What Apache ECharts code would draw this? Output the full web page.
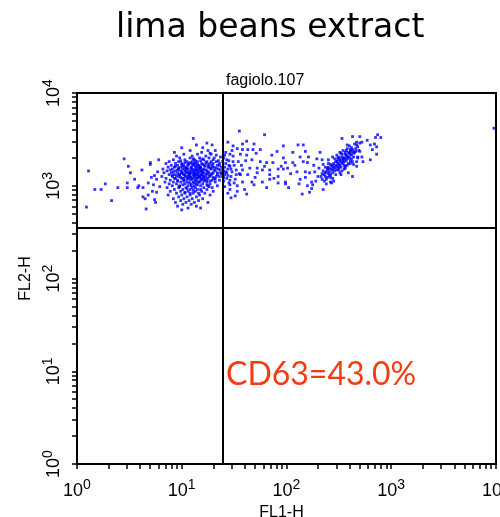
<!DOCTYPE html>
<html><head><meta charset="utf-8">
<script src="https://cdn.jsdelivr.net/npm/echarts@6/dist/echarts.min.js"></script>
<style>html,body{margin:0;padding:0;background:#fff}#c{width:500px;height:517px}</style>
</head><body><div id="c"></div>
<script>
// Values are log10 of FL1-H / FL2-H intensity (decades).
const titleText = 'lima beans extract';
const sampleName = 'fagiolo.107';
const gateLabel = 'CD63=43.0%';
const gateFL1 = 24.5;   // vertical quadrant marker (FL1-H)
const gateFL2 = 355;    // horizontal quadrant marker (FL2-H)
const decades = [0, 1, 2, 3, 4];

const leftTail = [[0.11,3.16],[0.09,2.77],[0.17,2.96],[0.23,2.96],[0.27,3.02],[0.33,2.84],[0.39,2.98],[0.45,3.29],[0.48,3.03],[0.48,2.98],[0.49,3.21],[0.51,3.14],[0.55,3.07],[0.58,2.98],[0.59,3.00],[0.62,3.17],[0.63,2.98],[0.63,2.88],[0.65,2.86],[0.66,2.75],[0.68,3.03],[0.68,2.90],[0.70,3.25],[0.72,2.94],[0.74,2.85],[0.76,3.07],[0.77,3.15],[0.79,2.99],[0.70,3.23],[0.74,3.11],[0.73,3.01],[0.76,2.93],[0.78,3.28],[0.75,2.82],[0.71,3.09]];

const mainCluster = [
[0.98,3.30],[1.08,3.30],[1.17,3.30],[1.26,3.30],
[0.92,3.28],[1.03,3.28],[1.12,3.28],[1.21,3.28],[1.30,3.28],
[0.88,3.26],[0.97,3.26],[1.05,3.26],[1.10,3.26],[1.15,3.26],[1.24,3.26],[1.33,3.26],
[0.85,3.24],[0.94,3.24],[1.00,3.24],[1.07,3.24],[1.13,3.24],[1.19,3.24],[1.27,3.24],[1.36,3.24],
[0.90,3.22],[0.96,3.22],[1.02,3.22],[1.06,3.22],[1.11,3.22],[1.16,3.22],[1.22,3.22],[1.29,3.22],[1.34,3.22],
[0.87,3.20],[0.93,3.20],[0.99,3.20],[1.04,3.20],[1.09,3.20],[1.14,3.20],[1.18,3.20],[1.25,3.20],[1.31,3.20],[1.38,3.20],
[0.82,3.18],[0.91,3.18],[0.97,3.18],[1.01,3.18],[1.06,3.18],[1.10,3.18],[1.13,3.18],[1.17,3.18],[1.21,3.18],[1.28,3.18],[1.35,3.18],
[0.86,3.16],[0.94,3.16],[0.99,3.16],[1.03,3.16],[1.08,3.16],[1.12,3.16],[1.15,3.16],[1.19,3.16],[1.24,3.16],[1.32,3.16],[1.40,3.16],
[0.83,3.14],[0.90,3.14],[0.96,3.14],[1.00,3.14],[1.05,3.14],[1.09,3.14],[1.13,3.14],[1.16,3.14],[1.20,3.14],[1.26,3.14],[1.30,3.14],[1.37,3.14],
[0.88,3.12],[0.93,3.12],[0.98,3.12],[1.02,3.12],[1.07,3.12],[1.11,3.12],[1.14,3.12],[1.18,3.12],[1.23,3.12],[1.28,3.12],[1.34,3.12],
[0.81,3.10],[0.91,3.10],[0.97,3.10],[1.04,3.10],[1.08,3.10],[1.12,3.10],[1.17,3.10],[1.21,3.10],[1.27,3.10],[1.33,3.10],[1.39,3.10],
[0.85,3.08],[0.94,3.08],[1.00,3.08],[1.06,3.08],[1.10,3.08],[1.15,3.08],[1.19,3.08],[1.25,3.08],[1.31,3.08],
[0.89,3.06],[0.96,3.06],[1.02,3.06],[1.08,3.06],[1.13,3.06],[1.18,3.06],[1.22,3.06],[1.29,3.06],[1.36,3.06],
[0.84,3.04],[0.92,3.04],[0.99,3.04],[1.05,3.04],[1.11,3.04],[1.16,3.04],[1.24,3.04],[1.32,3.04],
[0.88,3.02],[0.95,3.02],[1.03,3.02],[1.09,3.02],[1.14,3.02],[1.20,3.02],[1.27,3.02],
[0.91,3.00],[0.98,3.00],[1.06,3.00],[1.12,3.00],[1.18,3.00],[1.25,3.00],[1.34,3.00],
[0.86,2.98],[0.97,2.98],[1.04,2.98],[1.10,2.98],[1.21,2.98],[1.29,2.98],
[0.93,2.96],[1.01,2.96],[1.08,2.96],[1.15,2.96],[1.24,2.96],
[0.89,2.94],[0.99,2.94],[1.06,2.94],[1.13,2.94],[1.19,2.94],[1.30,2.94],
[0.95,2.92],[1.03,2.92],[1.11,2.92],[1.22,2.92],
[0.87,2.90],[1.00,2.90],[1.08,2.90],[1.17,2.90],[1.27,2.90],
[0.97,2.88],[1.05,2.88],[1.14,2.88],
[0.92,2.86],[1.02,2.86],[1.10,2.86],[1.20,2.86],
[0.99,2.84],[1.07,2.84],[1.16,2.84],
[0.94,2.82],[1.04,2.82],[1.12,2.82],[1.25,2.82],
[1.01,2.80],[1.09,2.80],[0.96,2.78],[1.14,2.78],[1.06,2.76],[1.18,2.76],[1.00,2.74],
[0.95,3.32],[1.10,3.32],[1.23,3.32],[1.02,3.34],[1.15,3.34],[1.28,3.34],
[0.93,3.36],[1.19,3.36],[1.08,3.38],[1.25,3.38],[1.32,3.38],
[1.00,3.41],[1.20,3.41],[1.14,3.44],[1.29,3.44],[1.24,3.46],[1.11,3.51]
];

const clusterCore = [
[1.01,3.13],[1.06,3.15],[1.11,3.15],[1.15,3.13],[1.19,3.15],[1.23,3.17],[1.04,3.17],[1.09,3.19],[1.13,3.21],[1.18,3.19],
[1.22,3.21],[1.27,3.19],[1.03,3.11],[1.07,3.09],[1.12,3.11],[1.16,3.09],[1.20,3.11],[1.24,3.13],[0.99,3.09],[1.05,3.07],
[1.10,3.07],[1.14,3.05],[1.19,3.07],[1.23,3.09],[0.95,3.11],[0.92,3.15],[0.97,3.19],[1.01,3.21],[1.06,3.23],[1.10,3.23],
[1.15,3.23],[1.20,3.23],[1.25,3.23],[1.29,3.20],[1.31,3.17],[1.29,3.13],[1.26,3.11],[1.30,3.09],[1.02,3.05],[1.07,3.03],
[1.12,3.03],[1.17,3.04],[1.21,3.05],[0.96,3.05],[0.93,3.08],[1.08,3.25],[1.13,3.27],[1.18,3.27],[1.23,3.25],[1.28,3.26],
[1.03,3.25],[0.99,3.27],[1.11,3.29],[1.20,3.29],[0.94,3.21],[0.89,3.17],[0.91,3.11],[1.33,3.19],[1.34,3.14],[1.36,3.10],
[1.32,3.07],[1.27,3.05],[1.15,3.01],[1.09,3.00],[1.01,3.01],[1.24,3.01],[0.98,2.99],[1.05,2.97],[1.13,2.98],[1.18,2.96],
[1.11,2.95],[1.03,2.93],[1.16,2.92],[1.08,2.92],[1.26,2.99],[1.00,3.15],[1.04,3.14],[1.08,3.13],[1.14,3.17],[1.17,3.16],
[1.21,3.14],[1.25,3.15],[1.05,3.19],[1.10,3.17],[1.16,3.19],[1.20,3.17],[1.02,3.08],[1.06,3.10],[1.09,3.09],[1.13,3.08],
[1.17,3.10],[1.21,3.08],[1.24,3.06],[1.12,3.13],[1.07,3.13],[1.15,3.11],[1.19,3.12],[0.98,3.12],[0.96,3.17],[1.00,3.23],
[1.03,3.19],[1.12,3.24],[1.17,3.21],[1.26,3.21],[1.30,3.24],[1.37,3.17],[1.38,3.13],[1.35,3.27],[1.31,3.30],[1.33,3.33],
[1.27,3.35],[1.36,3.22],[1.39,3.26],[1.37,3.31],
[1.41,3.20],[1.43,3.28],[1.45,3.22],[1.42,3.15],[1.47,3.18],[1.44,3.11],[1.40,3.09],[1.46,3.06],[1.49,3.26],[1.52,3.12],
[1.41,3.33],[1.45,3.03]
];

const gatePositive = [
[1.55,3.59],[1.79,3.55],[1.44,3.47],[1.49,3.43],[1.58,3.45],[1.53,3.40],[1.58,3.39],[1.63,3.39],[1.68,3.39],[1.75,3.39],
[1.97,3.43],[1.91,3.37],[1.56,3.34],[1.62,3.33],[1.67,3.28],[1.75,3.26],[1.81,3.25],[1.87,3.25],[1.97,3.30],[1.99,3.25],
[2.01,3.19],[1.72,3.19],[1.77,3.17],[1.84,3.17],[1.92,3.18],[1.97,3.18],[1.58,3.17],[1.56,3.12],[1.63,3.12],[1.72,3.14],
[1.84,3.12],[1.92,3.10],[1.51,3.07],[1.58,3.04],[1.67,3.04],[1.77,3.04],[1.84,3.07],[1.92,3.03],[1.99,3.04],[1.46,3.01],
[1.53,3.00],[1.60,2.96],[1.81,2.98],[1.46,2.96],[1.53,2.94],
[1.40,3.30],[1.42,3.24],[1.44,3.18],[1.41,3.12],[1.46,3.21],[1.43,3.08],[1.48,3.15],[1.45,3.27],[1.50,3.22],[1.40,3.05],
[1.47,3.10],[1.52,3.17],[1.42,3.36],[1.49,3.32],[1.54,3.26],[1.41,2.99],[1.44,2.92],[1.50,3.03],[1.55,3.13],[1.51,2.89],
[1.48,3.38],[1.57,3.22],[1.43,3.14],[1.46,3.34],[1.47,2.87],[1.62,2.91],[1.62,3.48],[1.71,3.35],[1.86,3.33],[1.69,3.45],
[1.95,3.21],[2.04,3.13],[2.08,3.22],[1.88,3.08],[2.02,2.98],[2.12,3.02],[1.79,3.21],[1.70,3.09],[2.26,3.22],[2.29,3.29],
[2.31,3.19],[2.28,3.05],[2.24,2.97],[2.18,3.09],[1.65,3.19],[1.61,3.27],[1.69,3.01],[1.99,3.02]
];

const brightCluster = [
[2.11,3.44],[2.16,3.44],[2.06,3.36],[2.13,3.31],[2.18,3.37],[2.21,3.31],[2.16,3.26],[2.20,3.25],[2.06,3.25],[2.10,3.15],
[2.18,3.15],[2.22,3.14],[2.27,3.15],[2.32,3.36],[2.34,3.28],[2.35,3.23],[2.30,3.10],[2.34,3.07],[2.37,3.10],[2.13,3.07],
[2.24,3.04],[2.25,3.01],[2.20,3.00],[2.15,2.91],[2.22,2.93],[2.35,2.96],[2.42,3.04],[2.43,3.03],[2.53,3.51],[2.63,3.53],
[2.67,3.47],[2.58,3.44],[2.61,3.39],[2.51,3.36],[2.44,3.31],[2.40,3.28],[2.48,3.26],[2.54,3.30],[2.65,3.36],[2.68,3.30],
[2.64,3.23],[2.56,3.19],[2.51,3.14],[2.44,3.17],[2.39,3.19],[2.59,3.14],[2.63,3.10],[2.42,3.12],
[2.36,3.12],[2.38,3.15],[2.40,3.13],[2.41,3.18],[2.43,3.21],[2.44,3.14],[2.45,3.24],[2.46,3.19],[2.47,3.22],[2.48,3.17],
[2.49,3.28],[2.50,3.23],[2.51,3.26],[2.52,3.20],[2.53,3.31],[2.54,3.25],[2.55,3.29],[2.56,3.34],[2.57,3.27],[2.58,3.32],
[2.59,3.36],[2.60,3.30],[2.61,3.34],[2.62,3.41],[2.63,3.37],[2.64,3.31],[2.66,3.40],[2.67,3.44],[2.69,3.38],[2.70,3.46],
[2.39,3.09],[2.42,3.23],[2.46,3.29],[2.49,3.19],[2.52,3.35],[2.55,3.22],[2.58,3.40],[2.61,3.27],[2.37,3.20],[2.44,3.08],
[2.47,3.12],[2.50,3.31],[2.53,3.16],[2.57,3.38],[2.65,3.45],[2.35,3.16],[2.40,3.24],[2.45,3.05],[2.48,3.33],[2.56,3.21],
[2.60,3.43],[2.63,3.26],[2.34,3.13],[2.38,3.02],[2.42,3.09],[2.51,3.29],[2.54,3.38],[2.59,3.24],
[2.37,3.14],[2.39,3.17],[2.41,3.15],[2.43,3.18],[2.45,3.20],[2.46,3.16],[2.48,3.21],[2.49,3.24],[2.50,3.20],[2.51,3.22],
[2.52,3.27],[2.53,3.24],[2.54,3.28],[2.55,3.26],[2.56,3.30],[2.57,3.33],[2.58,3.29],[2.59,3.31],[2.60,3.35],[2.61,3.37],
[2.62,3.33],[2.63,3.39],[2.64,3.35],[2.66,3.37],[2.47,3.26],[2.44,3.22],[2.41,3.11],[2.38,3.07],[2.36,3.05],[2.33,3.10],
[2.40,3.20],[2.50,3.17],[2.52,3.12],[2.55,3.18],[2.58,3.22],[2.61,3.24],[2.49,3.30],[2.53,3.34],[2.56,3.36],[2.62,3.29],
[2.87,3.55],[2.90,3.52],[2.85,3.52],[2.70,3.53],[2.72,3.47],[2.77,3.49],[2.80,3.44],[2.84,3.45],[2.86,3.42],[2.82,3.39],
[2.86,3.34],[2.80,3.28],[2.68,3.42],[2.70,3.37],[2.68,3.31],[2.72,3.31],[2.67,3.26],[2.73,3.26],[2.67,3.21],
[3.98,3.62]
];

const allEvents = [].concat(leftTail, mainCluster, clusterCore, gatePositive, brightCluster)
  .map(function (p) { return [Math.pow(10, p[0]), Math.pow(10, p[1])]; });

// minor tick positions 1..9 x 10^n, labels at each decade
const minorTicks = [];
for (let n = 0; n < 4; n++) for (let k = 1; k < 10; k++) minorTicks.push(k * Math.pow(10, n));
minorTicks.push(10000);
const labelValues = decades.map(function (d) { return Math.pow(10, d); });

const axisFont = 'Liberation Sans';
const rich = {
  b: { fontSize: 18, fontFamily: axisFont, color: '#000', lineHeight: 22, verticalAlign: 'bottom' },
  s: { fontSize: 14, fontFamily: axisFont, color: '#000', lineHeight: 12, verticalAlign: 'top' }
};
function powLabel(v) { return '{b|10}{s|' + Math.round(Math.log10(v)) + '}'; }

const chart = echarts.init(document.getElementById('c'), null, { renderer: 'canvas' });
chart.setOption({
  animation: false,
  backgroundColor: '#fff',
  title: [
    { text: titleText, left: 111, top: 7, textStyle: { fontSize: 33, fontWeight: 'normal', fontFamily: 'DejaVu Sans', color: '#000' } },
    { text: sampleName, left: 221, top: 68, textStyle: { fontSize: 16, fontWeight: 'normal', fontFamily: axisFont, color: '#000' } }
  ],
  grid: { left: 77, right: 4, top: 93, bottom: 53, show: true, borderColor: '#000', borderWidth: 2, backgroundColor: '#fff', containLabel: false, outerBoundsMode: 'none' },
  xAxis: {
    type: 'log', logBase: 10, min: 1, max: 10000,
    name: 'FL1-H', nameLocation: 'middle', nameGap: 41,
    nameTextStyle: { fontSize: 16, fontFamily: axisFont, color: '#000', padding: [0, 10, 0, 0] },
    axisLine: { lineStyle: { color: '#000', width: 2 } },
    axisTick: { show: true, length: 5, inside: false, customValues: minorTicks, lineStyle: { color: '#000', width: 1.5 } },
    minorTick: { show: false },
    splitLine: { show: false },
    axisLabel: { customValues: labelValues, margin: 14, formatter: powLabel, rich: rich, hideOverlap: false }
  },
  yAxis: {
    type: 'log', logBase: 10, min: 1, max: 10000,
    name: 'FL2-H', nameLocation: 'middle', nameGap: 41, nameRotate: 90,
    nameTextStyle: { fontSize: 16, fontFamily: axisFont, color: '#000' },
    axisLine: { lineStyle: { color: '#000', width: 2 } },
    axisTick: { show: true, length: 5, inside: false, customValues: minorTicks, lineStyle: { color: '#000', width: 1.5 } },
    minorTick: { show: false },
    splitLine: { show: false },
    axisLabel: { customValues: labelValues, margin: 14, rotate: 90, formatter: powLabel, rich: rich, hideOverlap: false }
  },
  series: [{
    type: 'scatter',
    data: allEvents,
    symbol: 'rect',
    symbolSize: 2.8,
    itemStyle: { color: '#0000ff' },
    silent: true,
    markLine: {
      silent: true,
      symbol: ['none', 'none'],
      label: { show: false },
      lineStyle: { color: '#000', width: 2, type: 'solid' },
      data: [{ xAxis: gateFL1 }, { yAxis: gateFL2 }]
    }
  }],
  graphic: [{
    type: 'text', left: 226, top: 359,
    style: { text: gateLabel, fontSize: 32, fontFamily: 'Lato', fill: '#f43c14' }
  }]
});
</script></body></html>
